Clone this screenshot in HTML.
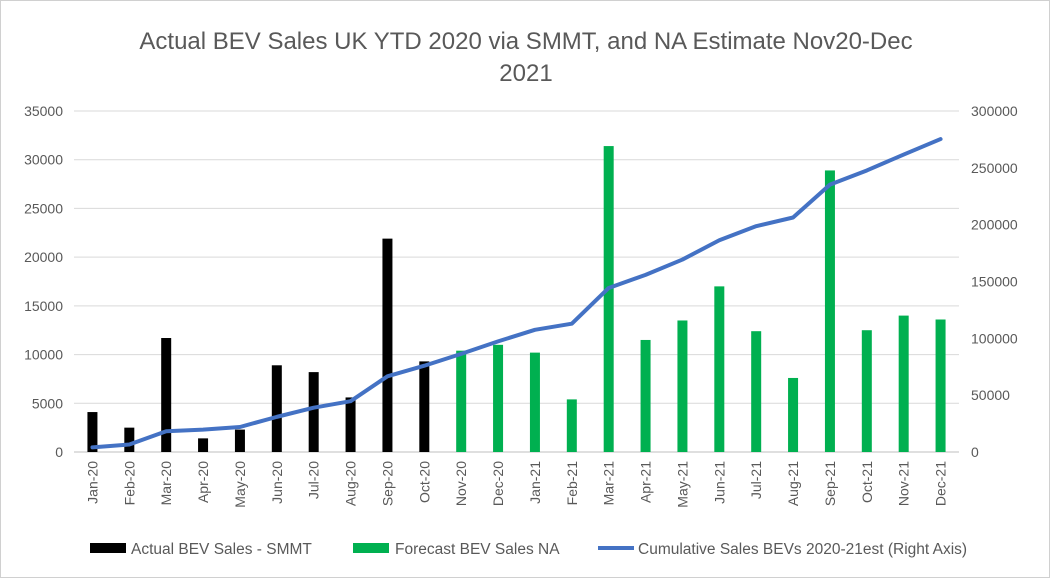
<!DOCTYPE html>
<html><head><meta charset="utf-8"><style>
body{margin:0;background:#fff;font-family:"Liberation Sans",sans-serif;}
#c{position:absolute;left:0;top:0;width:1048px;height:576px;border:1px solid #d0d0d0;}
</style></head><body>
<div id="c">
<svg id="s" width="1050" height="578" font-family="Liberation Sans, sans-serif"></svg>
</div>
<script>
const categories=["Jan-20","Feb-20","Mar-20","Apr-20","May-20","Jun-20","Jul-20","Aug-20","Sep-20","Oct-20","Nov-20","Dec-20","Jan-21","Feb-21","Mar-21","Apr-21","May-21","Jun-21","Jul-21","Aug-21","Sep-21","Oct-21","Nov-21","Dec-21"];
const actualSales=[4100,2500,11700,1400,2300,8900,8200,5600,21900,9300,null,null,null,null,null,null,null,null,null,null,null,null,null,null];
const forecastSales=[null,null,null,null,null,null,null,null,null,null,10400,11000,10200,5400,31400,11500,13500,17000,12400,7600,28900,12500,14000,13600];
const cumulative=[4100,6600,18300,19700,22000,30900,39000,44700,66600,75900,86300,97300,107500,112900,144300,155800,169300,186300,198700,206300,235200,247700,261700,275300];
const leftTicks=[0,5000,10000,15000,20000,25000,30000,35000];
const rightTicks=[0,50000,100000,150000,200000,250000,300000];
const NS="http://www.w3.org/2000/svg",svg=document.getElementById('s');
const X0=73,X1=958,Y0=451,Y1=110;
const band=(X1-X0)/categories.length;
const xC=i=>X0+band*(i+0.5);
const yL=v=>Y0-(v/35000)*(Y0-Y1);
const yR=v=>Y0-(v/300000)*(Y0-Y1);
function mk(t,a,txt){const e=document.createElementNS(NS,t);for(const k in a)e.setAttribute(k,a[k]);if(txt!=null)e.textContent=txt;svg.appendChild(e);return e;}
let e;
e=mk('text',{x:525,y:48,'text-anchor':'middle','font-size':24,fill:'#595959'},'Actual BEV Sales UK YTD 2020 via SMMT, and NA Estimate Nov20-Dec');

e=mk('text',{x:525,y:80,'text-anchor':'middle','font-size':24,fill:'#595959'},'2021');

leftTicks.forEach(v=>{
 e=mk('line',{x1:X0,x2:X1,y1:yL(v),y2:yL(v),stroke:v===0?'#bfbfbf':'#d9d9d9','stroke-width':1});
 
 e=mk('text',{x:62,y:yL(v)+5,'text-anchor':'end','font-size':14,fill:'#595959'},String(v));
 
});
rightTicks.forEach(v=>{
 e=mk('text',{x:970,y:yR(v)+5,'text-anchor':'start','font-size':14,fill:'#595959'},String(v));
 
});
const bw=10;
categories.forEach((c,i)=>{
 if(actualSales[i]!=null){e=mk('rect',{x:xC(i)-bw/2,y:yL(actualSales[i]),width:bw,height:Y0-yL(actualSales[i]),fill:'#000'});
  }
 if(forecastSales[i]!=null){e=mk('rect',{x:xC(i)-bw/2,y:yL(forecastSales[i]),width:bw,height:Y0-yL(forecastSales[i]),fill:'#00b050'});
  }
 e=mk('text',{x:0,y:0,'text-anchor':'end','font-size':14,fill:'#595959',transform:`translate(${xC(i)+5},460) rotate(-90)`},c);
 
});
e=mk('polyline',{points:cumulative.map((v,i)=>xC(i)+','+yR(v)).join(' '),fill:'none',stroke:'#4472c4','stroke-width':4,'stroke-linejoin':'round','stroke-linecap':'round'});

e=mk('rect',{x:89,y:542,width:36,height:10,fill:'#000'});
e=mk('text',{x:130,y:553,'font-size':15.5,fill:'#595959'},'Actual BEV Sales - SMMT');
e=mk('rect',{x:352,y:542,width:36,height:10,fill:'#00b050'});
e=mk('text',{x:394,y:553,'font-size':15.5,fill:'#595959'},'Forecast BEV Sales NA');
e=mk('line',{x1:597,x2:633,y1:547,y2:547,stroke:'#4472c4','stroke-width':4});
e=mk('text',{x:637,y:553,'font-size':15.5,fill:'#595959'},'Cumulative Sales BEVs 2020-21est (Right Axis)');
</script>
</body></html>
